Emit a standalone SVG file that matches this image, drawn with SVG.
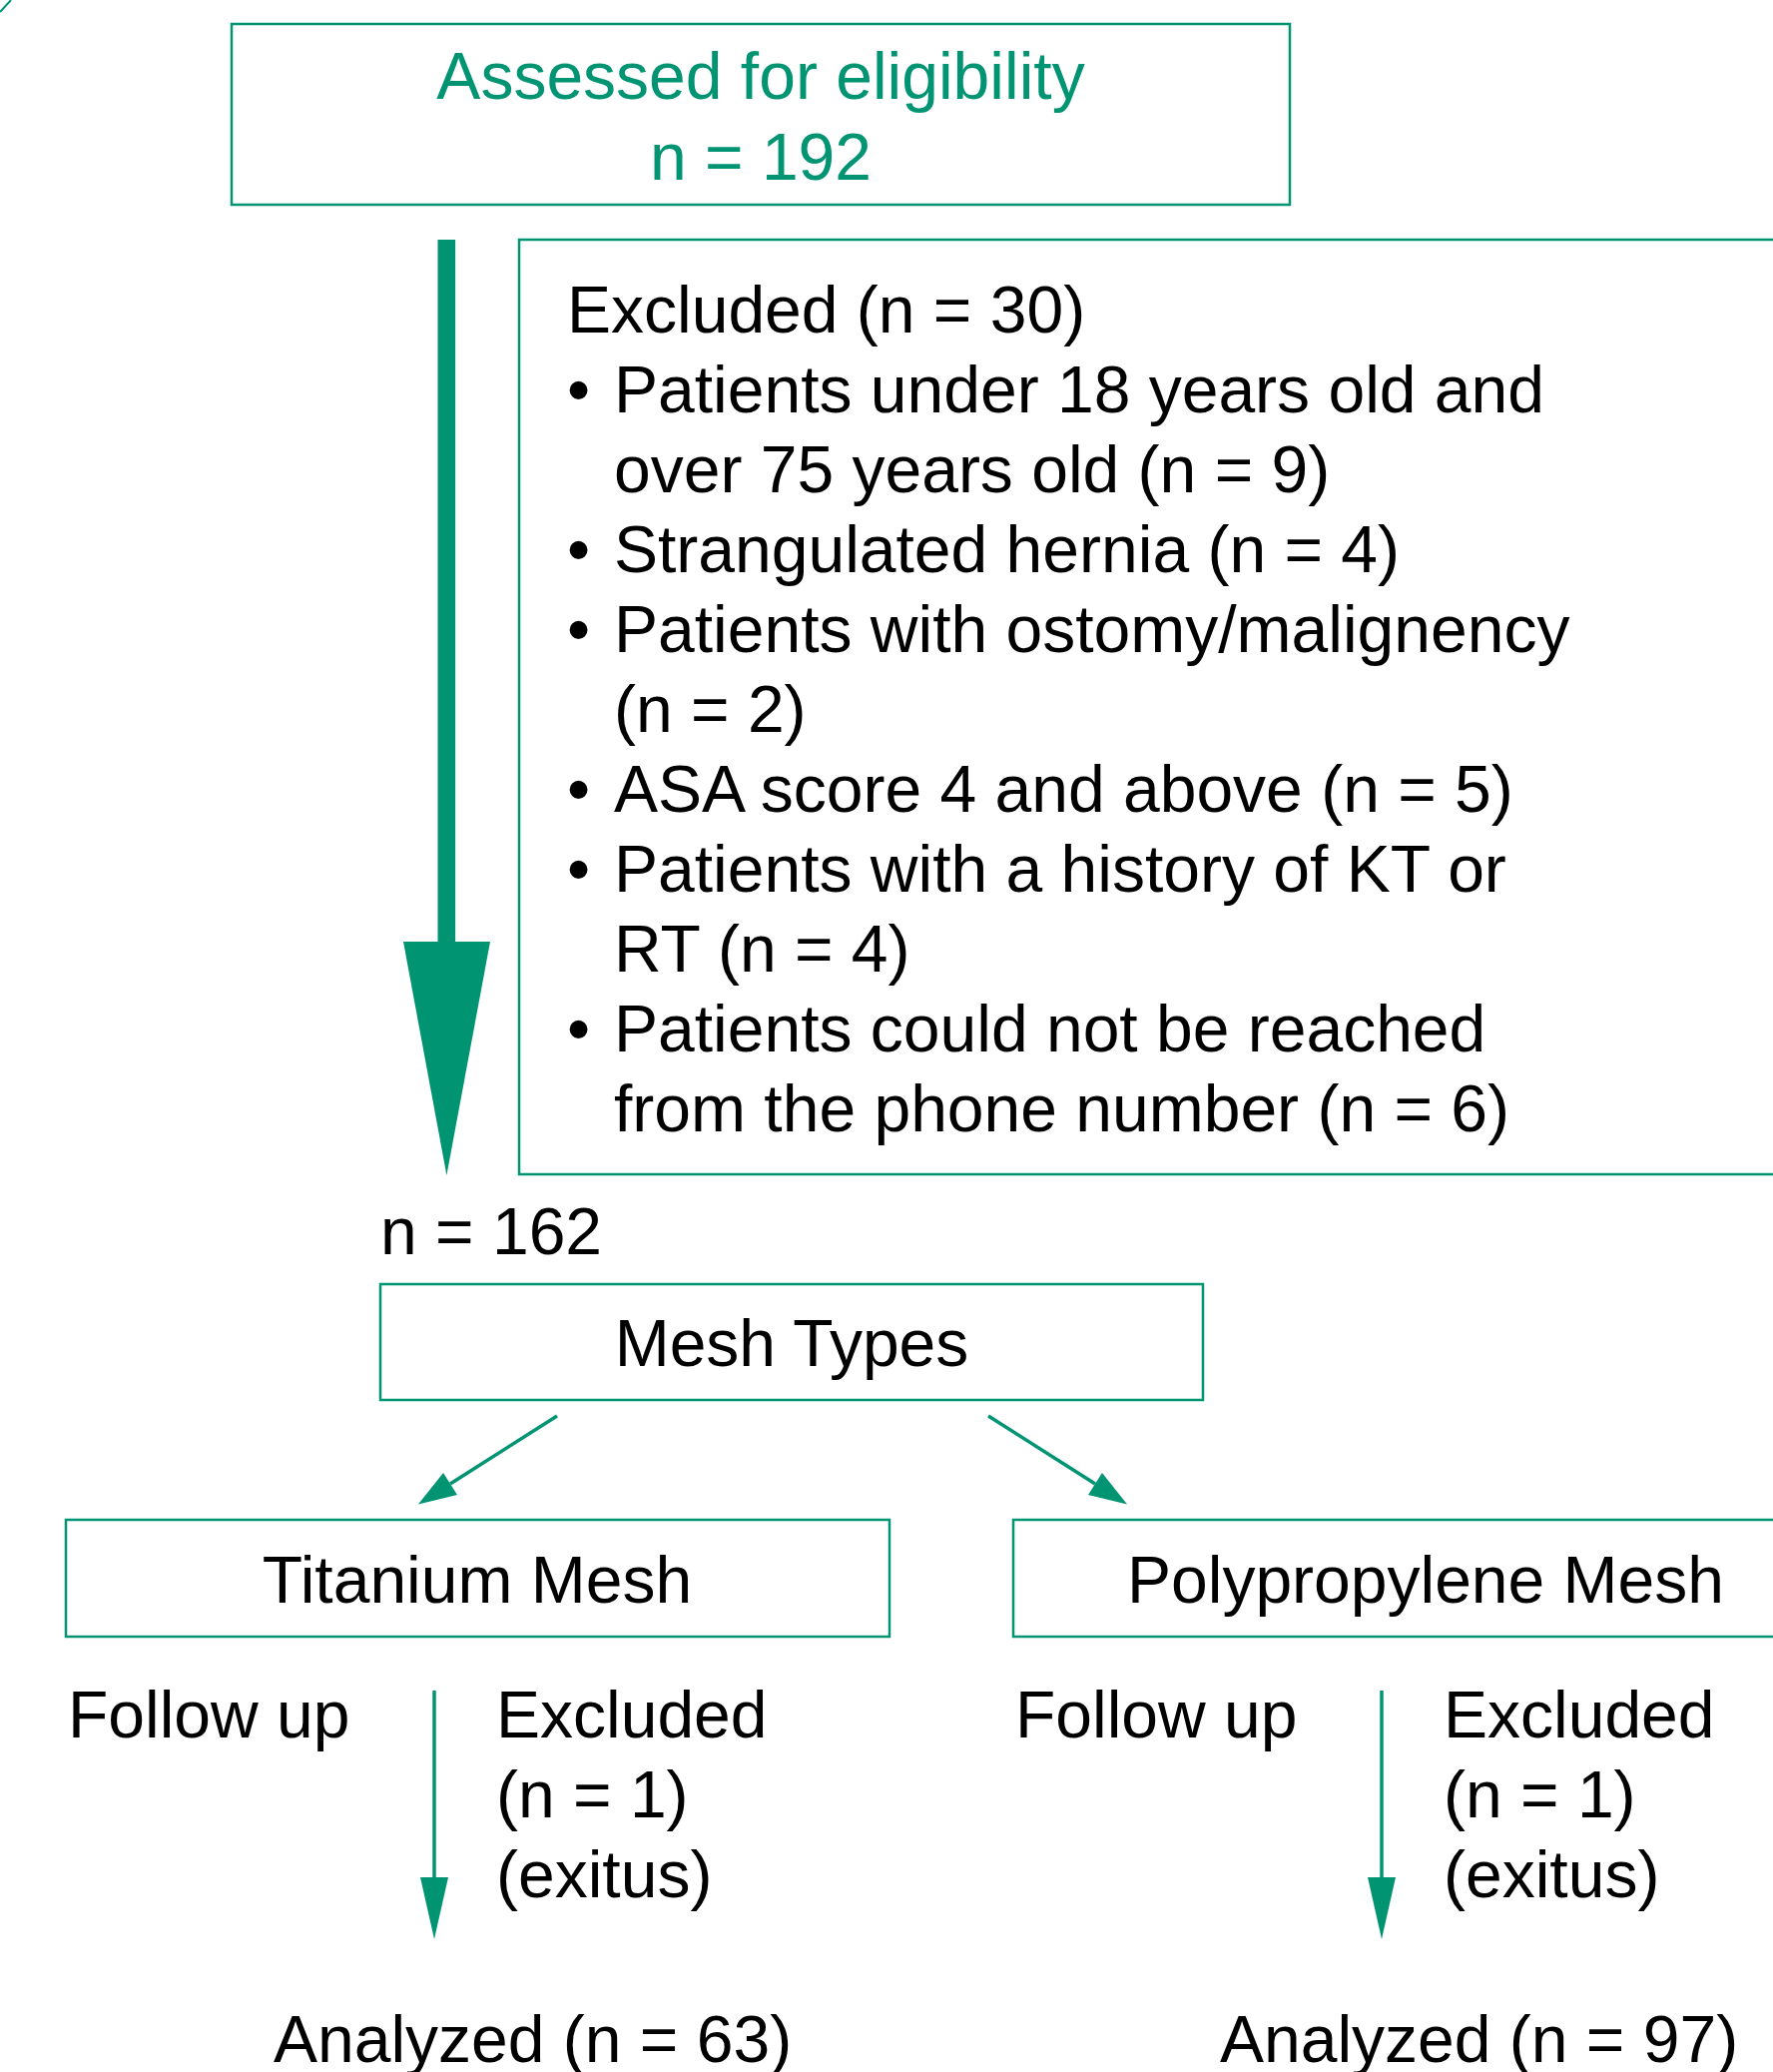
<svg xmlns="http://www.w3.org/2000/svg" width="1776" height="2075" viewBox="0 0 1776 2075">
<style>
.box{fill:none;stroke:#009473;stroke-width:2.5}
.t{font-family:"Liberation Sans",Arial,sans-serif;font-size:66px;fill:#000}
.g{fill:#009473}
.c{text-anchor:middle}
.ln{stroke:#009473;stroke-width:3.5;fill:none}
</style>
<defs>
<marker id="ah" markerUnits="userSpaceOnUse" markerWidth="64" markerHeight="30" refX="0" refY="0" viewBox="-2 -15 64 30" orient="auto">
<path d="M0,-14 L62,0 L0,14 Z" fill="#009473"/>
</marker>
<marker id="ahs" markerUnits="userSpaceOnUse" markerWidth="40" markerHeight="28" refX="0" refY="0" viewBox="-2 -14 40 28" orient="auto">
<path d="M0,-13 L38,0 L0,13 Z" fill="#009473"/>
</marker>
</defs>
<line x1="0" y1="12" x2="11" y2="0" stroke="#009473" stroke-width="2"/>
<g id="assessed">
<rect class="box" x="232" y="24" width="1060" height="181"/>
<text class="t g c" x="762" y="99">Assessed for eligibility</text>
<text class="t g c" x="762" y="180">n = 192</text>
</g>
<g id="excluded">
<rect class="box" x="520" y="240" width="1300" height="936"/>
<text class="t" x="568" y="333">Excluded (n = 30)</text>
<text class="t" x="568" y="413">•</text><text class="t" x="615" y="413">Patients under 18 years old and</text>
<text class="t" x="615" y="493">over 75 years old (n = 9)</text>
<text class="t" x="568" y="573">•</text><text class="t" x="615" y="573">Strangulated hernia (n = 4)</text>
<text class="t" x="568" y="653">•</text><text class="t" x="615" y="653">Patients with ostomy/malignency</text>
<text class="t" x="615" y="733">(n = 2)</text>
<text class="t" x="568" y="813">•</text><text class="t" x="615" y="813">ASA score 4 and above (n = 5)</text>
<text class="t" x="568" y="893">•</text><text class="t" x="615" y="893">Patients with a history of KT or</text>
<text class="t" x="615" y="973">RT (n = 4)</text>
<text class="t" x="568" y="1053">•</text><text class="t" x="615" y="1053">Patients could not be reached</text>
<text class="t" x="615" y="1133">from the phone number (n = 6)</text>
</g>
<g id="n162">
<text class="t" x="381" y="1256">n = 162</text>
</g>
<g id="meshtypes">
<rect class="box" x="381" y="1286" width="824" height="116"/>
<text class="t c" x="793" y="1368">Mesh Types</text>
</g>
<g id="titanium">
<rect class="box" x="66" y="1522" width="825" height="117"/>
<text class="t c" x="478" y="1605">Titanium Mesh</text>
</g>
<g id="polypropylene">
<rect class="box" x="1015" y="1522" width="826" height="117"/>
<text class="t c" x="1428" y="1605">Polypropylene Mesh</text>
</g>
<g id="left-follow">
<text class="t" x="68" y="1740">Follow up</text>
<text class="t" x="497" y="1740">Excluded</text>
<text class="t" x="497" y="1820">(n = 1)</text>
<text class="t" x="497" y="1900">(exitus)</text>
<text class="t" x="274" y="2065">Analyzed (n = 63)</text>
</g>
<g id="right-follow">
<text class="t" x="1017" y="1740">Follow up</text>
<text class="t" x="1446" y="1740">Excluded</text>
<text class="t" x="1446" y="1820">(n = 1)</text>
<text class="t" x="1446" y="1900">(exitus)</text>
<text class="t" x="1222" y="2065">Analyzed (n = 97)</text>
</g>
<g id="connectors">
<rect x="438.5" y="240" width="17.6" height="704" fill="#009473"/>
<polygon points="404,943 491,943 447.4,1177" fill="#009473"/>
<line class="ln" x1="558" y1="1418" x2="451" y2="1486" marker-end="url(#ahs)"/>
<line class="ln" x1="990" y1="1418" x2="1097" y2="1486" marker-end="url(#ahs)"/>
<line class="ln" x1="435" y1="1693" x2="435" y2="1880" marker-end="url(#ah)"/>
<line class="ln" x1="1384" y1="1693" x2="1384" y2="1880" marker-end="url(#ah)"/>
</g>
</svg>
